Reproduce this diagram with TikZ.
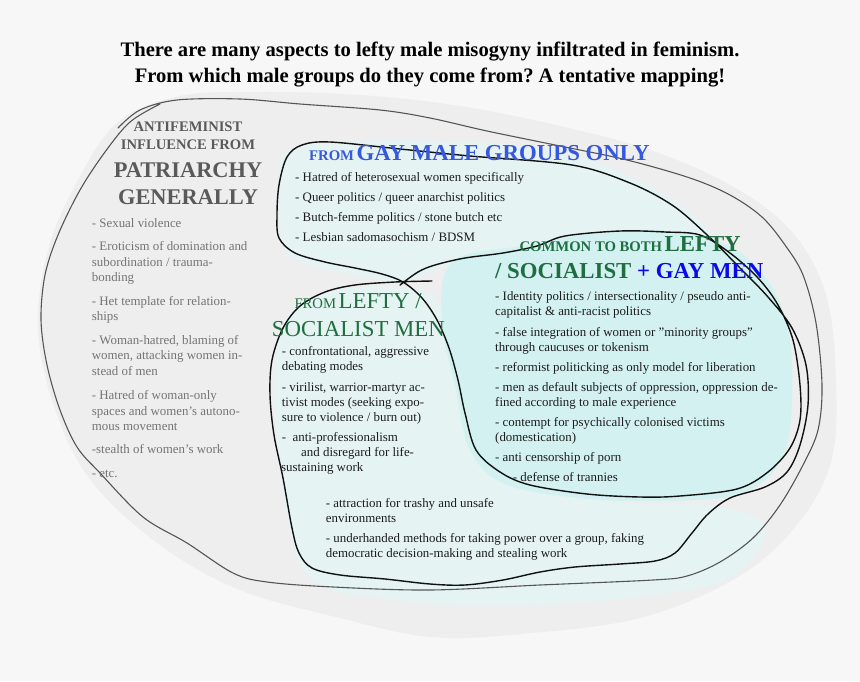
\documentclass[tikz,border=0pt]{standalone}
\usepackage{fontspec}
\setmainfont{Liberation Serif}
\frenchspacing
\definecolor{bgc}{HTML}{F7F7F7}
\definecolor{blobc}{HTML}{EEEEEE}
\definecolor{lcyan}{HTML}{E5F3F3}
\definecolor{scyan}{HTML}{D3F1F1}
\definecolor{outg}{HTML}{555555}
\definecolor{lineb}{HTML}{111111}
\definecolor{lhead}{HTML}{5A5A5A}
\definecolor{llist}{HTML}{747474}
\definecolor{bodyc}{HTML}{1C1C1C}
\definecolor{gblue}{HTML}{3558DC}
\definecolor{pblue}{HTML}{0A0AE8}
\definecolor{gre}{HTML}{1E6E40}
\newcommand{\bodysize}{\fontsize{12.9}{15}\selectfont}
\newcommand{\smallhd}{\fontsize{14.7}{16}\selectfont}
\newcommand{\bighd}{\fontsize{22.8}{24}\selectfont}
\begin{document}
\begin{tikzpicture}[x=1pt,y=-1pt,
  txt/.style={anchor=base west,inner sep=0pt,font=\bodysize,text=bodyc},
  ltxt/.style={txt,text=llist},
  lhd/.style={anchor=base,inner sep=0pt,text=lhead,font=\bfseries},
  titlef/.style={anchor=base,inner sep=0pt,text=black,font=\fontsize{20.6}{22}\selectfont\bfseries},
  hd/.style={anchor=base west,inner sep=0pt},
  blackline/.style={draw=lineb,line width=1.4pt,line cap=round,line join=round},
  grayline/.style={draw=outg,line width=1.1pt,line cap=round,line join=round}]
\useasboundingbox (0,0) rectangle (860,681);
\fill[bgc] (0,0) rectangle (860,681);
% big gray blob
\fill[blobc] plot[smooth cycle,tension=0.6] coordinates {(38,330) (48,250) (78,180) (118,122) (180,96) (260,92) (360,95) (460,106) (560,126) (650,150) (732,186) (792,232) (826,295) (836,380) (831,462) (796,526) (736,578) (640,618) (520,634) (430,637) (340,618) (240,590) (160,545) (92,482) (56,412)};
% light cyan fills
\fill[lcyan] plot[smooth cycle,tension=0.6] coordinates {(300,146) (450,141) (560,152) (650,186) (705,226) (725,262) (690,282) (600,262) (505,257) (445,266) (405,282) (352,274) (302,263) (282,240) (280,182)};
\fill[lcyan] plot[smooth cycle,tension=0.6] coordinates {(305,300) (380,286) (438,302) (460,380) (498,470) (620,502) (720,506) (765,530) (725,580) (610,600) (480,606) (380,598) (312,580) (288,520) (276,430) (278,340)};
\fill[scyan] plot[smooth cycle,tension=0.6] coordinates {(452,262) (520,246) (600,233) (690,233) (752,262) (786,320) (792,400) (781,460) (740,494) (660,501) (580,498) (505,484) (470,450) (456,390) (442,320)};
% outer gray outline
\draw[grayline] plot[smooth,tension=0.55] coordinates {(118,128) (140,110) (177,100) (240,99) (300,104) (380,110) (430,118) (487,131) (560,146) (627,160) (690,178) (730,195) (762,217) (785,245) (803,275) (816,323) (822,385) (818,430) (803,465) (780,505) (753,538) (720,562) (687,576) (653,580) (540,585) (430,590) (333,587) (267,582) (233,573) (187,543) (143,517) (100,473) (77,447) (60,410) (47,365) (41,320) (45,275) (58,235) (80,190) (105,152) (130,122) (160,104)};
% black stroke around the groups
\draw[blackline] plot[smooth,tension=0.55] coordinates {(432,281) (395,282) (355,285) (325,292) (300,306) (283,328) (272,360) (270,395) (274,435) (283,478) (292,528) (299,553) (312,568) (340,575) (385,579) (430,584) (465,585) (503,580) (540,572) (575,567) (620,564) (655,561) (675,553) (692,533) (708,514) (730,498) (765,487) (787,472) (800,445) (808,405) (806,365) (792,328) (768,297) (740,268) (705,233) (672,205) (630,183) (572,165) (470,156) (400,149) (330,142) (302,145) (287,157) (279,185) (277,215) (279,238) (295,253) (325,262) (355,268) (382,274) (403,282) (422,298) (437,320) (449,348) (458,380) (465,413) (476,450) (500,472) (530,485) (587,494) (640,497) (680,496) (737,489) (768,472) (790,448) (800,420) (800,385) (793,340) (778,305) (758,278) (730,253) (700,235) (665,232) (620,231) (565,236) (537,246) (503,253) (465,258) (435,265) (418,272) (400,285)};
% title
\node[titlef] (t1) at (430,56) {There are many aspects to lefty male misogyny infiltrated in feminism.};
\node[titlef] (t2) at (430,82) {From which male groups do they come from? A tentative mapping!};
% left heading
\node[lhd,font=\fontsize{14.6}{16}\selectfont\bfseries] (p1) at (188,131) {ANTIFEMINIST};
\node[lhd,font=\fontsize{14.6}{16}\selectfont\bfseries] (p2) at (188,149) {INFLUENCE FROM};
\node[lhd,font=\fontsize{22.4}{24}\selectfont\bfseries] (p3) at (188,177.3) {PATRIARCHY};
\node[lhd,font=\fontsize{22.4}{24}\selectfont\bfseries] (p4) at (188,204.3) {GENERALLY};
% left list
\node[ltxt] (a1) at (91.7,227.3) {- Sexual violence};
\node[ltxt] (a2) at (91.7,250.7) {- Eroticism of domination and};
\node[ltxt] (a3) at (91.7,266) {subordination / trauma-};
\node[ltxt] (a4) at (91.7,281.7) {bonding};
\node[ltxt] (a5) at (91.7,305) {- Het template for relation-};
\node[ltxt] (a6) at (91.7,320.7) {ships};
\node[ltxt] (a7) at (91.7,344) {- Woman-hatred, blaming of};
\node[ltxt] (a8) at (91.7,359.3) {women, attacking women in-};
\node[ltxt] (a9) at (91.7,375) {stead of men};
\node[ltxt] (a10) at (91.7,399.3) {- Hatred of woman-only};
\node[ltxt] (a11) at (91.7,415) {spaces and women’s autono-};
\node[ltxt] (a12) at (91.7,430) {mous movement};
\node[ltxt] (a13) at (91.7,453.3) {-stealth of women’s work};
\node[ltxt] (a14) at (91.7,477.7) {- etc.};
% gay heading and list
\node[hd,text=gblue,font=\bfseries] (g0) at (309,160.7) {{\smallhd FROM} {\bighd GAY MALE GROUPS ONLY}};
\node[txt] (g1) at (295,181.7) {- Hatred of heterosexual women specifically};
\node[txt] (g2) at (295,201.7) {- Queer politics / queer anarchist politics};
\node[txt] (g3) at (295,221.3) {- Butch-femme politics / stone butch etc};
\node[txt] (g4) at (295,241) {- Lesbian sadomasochism / BDSM};
% lefty heading and list
\node[hd,text=gre] (s0) at (294.3,308.3) {{\smallhd FROM} {\bighd LEFTY /}};
\node[hd,text=gre] (s00) at (271.7,336) {\bighd SOCIALIST MEN};
\node[txt] (s1) at (281.7,355) {- confrontational, aggressive};
\node[txt] (s2) at (281.7,370) {debating modes};
\node[txt] (s3) at (281.7,391) {- virilist, warrior-martyr ac-};
\node[txt] (s4) at (281.7,406) {tivist modes (seeking expo-};
\node[txt] (s5) at (281.7,421) {sure to violence / burn out)};
\node[txt] (s6) at (281.7,441) {-~ anti-professionalism};
\node[txt] (s7) at (301,456) {and disregard for life-};
\node[txt] (s8) at (281,471) {sustaining work};
% common heading and list
\node[hd,text=gre,font=\bfseries] (c0) at (519.3,251) {{\smallhd COMMON TO BOTH} {\bighd LEFTY}};
\node[hd,font=\bfseries] (c00) at (495,278.3) {\bighd\textcolor{gre}{/ SOCIALIST} \textcolor{pblue}{+ GAY MEN}};
\node[txt] (c1) at (495,300) {- Identity politics / intersectionality / pseudo anti-};
\node[txt] (c2) at (495,315.7) {capitalist \& anti-racist politics};
\node[txt] (c3) at (495,336) {- false integration of women or ”minority groups”};
\node[txt] (c4) at (495,351) {through caucuses or tokenism};
\node[txt] (c5) at (495,371) {- reformist politicking as only model for liberation};
\node[txt] (c6) at (495,391) {- men as default subjects of oppression, oppression de-};
\node[txt] (c7) at (495,406) {fined according to male experience};
\node[txt] (c8) at (495,426) {- contempt for psychically colonised victims};
\node[txt] (c9) at (495,441) {(domestication)};
\node[txt] (c10) at (495,461) {- anti censorship of porn};
\node[txt] (c11) at (512.7,481) {- defense of trannies};
% bottom items
\node[txt] (b1) at (325.7,507.3) {- attraction for trashy and unsafe};
\node[txt] (b2) at (325.7,522.3) {environments};
\node[txt] (b3) at (325.7,542.3) {- underhanded methods for taking power over a group, faking};
\node[txt] (b4) at (325.7,557.3) {democratic decision-making and stealing work};
\end{tikzpicture}
\end{document}
